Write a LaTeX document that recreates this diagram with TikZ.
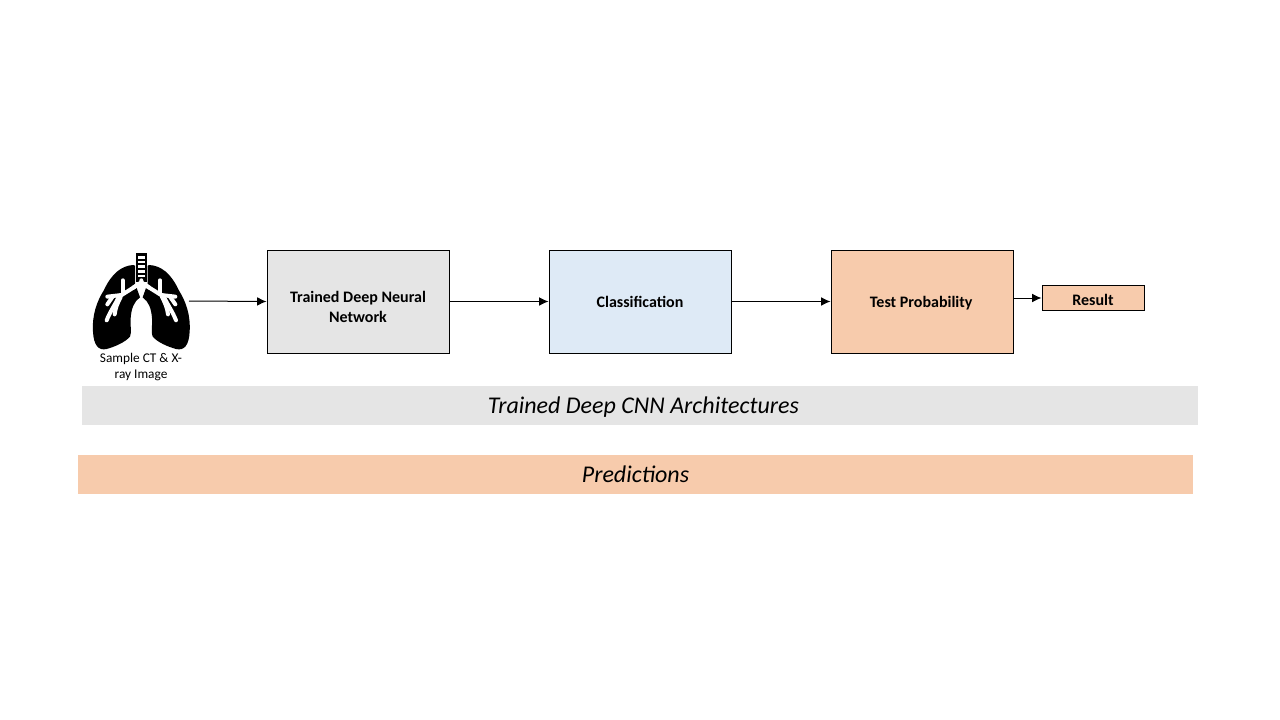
\documentclass[tikz,border=0pt]{standalone}
\usepackage{fontspec}
\setmainfont{Carlito}
\usetikzlibrary{arrows.meta}
\newcommand{\nudged}[2]{\raisebox{#1}[0pt][0pt]{#2}}
\tikzset{
  x=0.75pt,y=-0.75pt,
  flowbox/.style={draw=black,line width=0.75pt,inner sep=0pt,align=center,font=\fontsize{12}{15}\selectfont\bfseries,minimum width=136.5pt,minimum height=77.25pt},
  bar/.style={inner sep=0pt,font=\fontsize{18}{19}\selectfont\itshape,minimum height=28.9pt},
  flow/.style={draw=black,line width=0.75pt,-{Latex[length=7pt,width=6.5pt]}},
  bronchus/.style={draw=white,line width=3pt,line cap=round,line join=round},
}
\definecolor{boxgray}{HTML}{E5E5E5}
\definecolor{boxblue}{HTML}{DEEAF6}
\definecolor{boxpeach}{HTML}{F7CBAC}
\newcommand{\halflung}{%
  \fill[black] (160,60) .. controls (125,62) and (95,85) .. (72,135)
    .. controls (50,170) and (36,210) .. (39,260)
    .. controls (41,300) and (55,318) .. (80,312)
    .. controls (105,305) and (135,292) .. (150,275)
    .. controls (156,262) and (150,240) .. (152,220)
    .. controls (154,190) and (162,170) .. (180,157)
    -- (165,115) -- (165,62) -- cycle;
  \draw[bronchus] (184,112) -- (160,128) -- (125,150) -- (82,155);
  \draw[bronchus] (128,146) -- (128,106);
  \draw[bronchus] (118,152) .. controls (105,180) and (90,200) .. (80,226);
  \draw[bronchus] (122,156) .. controls (112,175) and (106,190) .. (104,208);
  \draw[bronchus] (98,155) -- (82,178);
}
\begin{document}
\begin{tikzpicture}
\useasboundingbox (0,0) rectangle (1280,720);
\fill[white] (0,0) rectangle (1280,720);
% lungs
\begin{scope}[shift={(80,245)},x=0.25pt,y=-0.25pt]
  \halflung
  \begin{scope}[shift={(368,0)},xscale=-1]
    \halflung
  \end{scope}
  \fill[black] (168,25) rectangle (200,112);
  \fill[white] (173,33) rectangle (195,41);
  \fill[white] (173,47) rectangle (195,55);
  \fill[white] (173,61) rectangle (195,69);
  \fill[white] (173,75) rectangle (195,83);
  \fill[white] (173,89) rectangle (195,97);
  \draw[bronchus] (184,106) -- (184,112) -- (160,128);
  \draw[bronchus] (184,112) -- (208,128);
\end{scope}
\coordinate (lungs) at (189,301);
\node[inner sep=0pt,align=center,font=\fontsize{10}{12}\selectfont] (sample) at (141,367) {Sample CT \& X-\\ray Image};
% boxes
\node[flowbox,fill=boxgray] (dnn) at (358,301.5) {\nudged{-8pt}{Trained Deep Neural}\\\nudged{-8pt}{Network}};
\node[flowbox,fill=boxblue] (cls) at (640,301.5) {\nudged{-4.4pt}{Classification}};
\node[flowbox,fill=boxpeach] (prob) at (922,301.5) {\nudged{-4.4pt}{\hspace{-1.2pt}Test Probability}};
\node[flowbox,fill=boxpeach,minimum width=76.5pt,minimum height=18.75pt] (res) at (1093,298) {\nudged{-5.5pt}{Result}};
% bars
\node[bar,fill=boxgray,minimum width=837pt] (cnn) at (640,405.5) {\nudged{-6.3pt}{\hspace{5pt}Trained Deep CNN Architectures}};
\node[bar,fill=boxpeach,minimum width=836pt] (pred) at (635.5,474.5) {\nudged{-6.3pt}{Predictions}};
% connectors
\draw[flow] (lungs) -- (dnn.west);
\draw[flow] (dnn.east) -- (cls.west);
\draw[flow] (cls.east) -- (prob.west);
\draw[flow] (prob.east |- res.west) -- (res.west);
\end{tikzpicture}
\end{document}
